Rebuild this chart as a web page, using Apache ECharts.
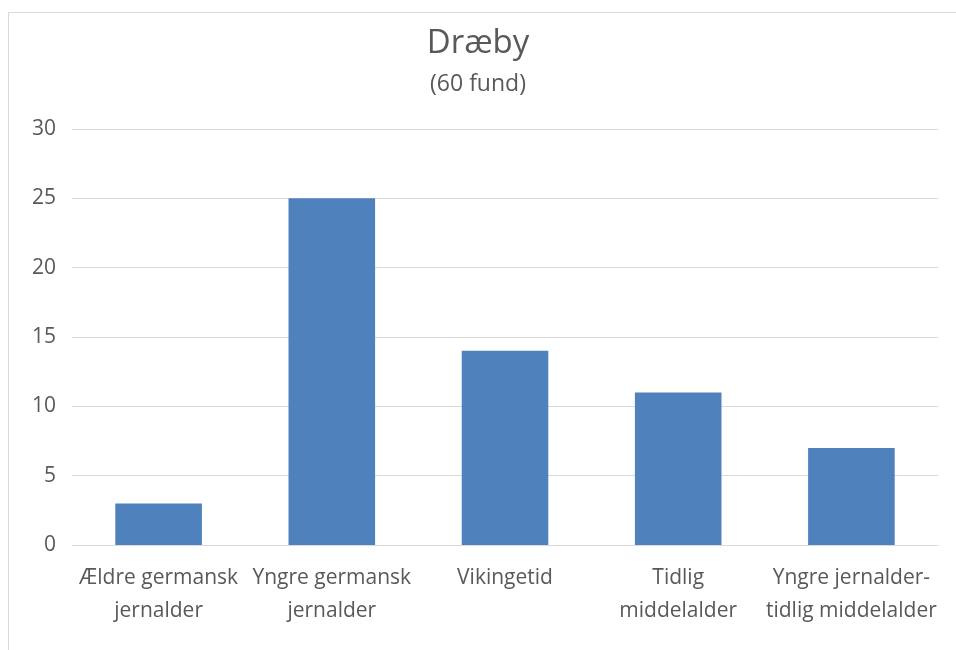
<!DOCTYPE html>
<html>
<head>
<meta charset="utf-8">
<script src="https://cdn.jsdelivr.net/npm/echarts@6/dist/echarts.min.js"></script>
<style>
  html, body { margin: 0; padding: 0; background: #fff; overflow: hidden; }
  #frame { position: absolute; left: 8px; top: 12px; width: 1100px; height: 800px; border: 1px solid #d9d9d9; }
  #main { position: absolute; left: 0; top: 0; width: 956px; height: 650px; }
</style>
</head>
<body>
<div id="frame"></div>
<div id="main"></div>
<script>
  const categories = [
    "Ældre germansk\njernalder",
    "Yngre germansk\njernalder",
    "Vikingetid",
    "Tidlig\nmiddelalder",
    "Yngre jernalder-\ntidlig middelalder"
  ];
  const counts = [3, 25, 14, 11, 7];
  const titleText = "Dræby";
  const subtitleText = "(60 fund)";

  const font = "'Open Sans', sans-serif";
  const textColor = "#595959";

  const chart = echarts.init(document.getElementById("main"));
  chart.setOption({
    animation: false,
    title: {
      text: titleText,
      subtext: subtitleText,
      left: "center",
      top: 22,
      itemGap: 13,
      textStyle: { fontFamily: font, fontSize: 33, fontWeight: "normal", color: textColor },
      subtextStyle: { fontFamily: font, fontSize: 23, color: textColor }
    },
    grid: { left: 72, right: 18, top: 129, bottom: 105 },
    xAxis: {
      type: "category",
      data: categories,
      axisLine: { lineStyle: { color: "#d9d9d9", width: 1 } },
      axisTick: { show: false },
      axisLabel: {
        interval: 0,
        margin: 17,
        fontFamily: font,
        fontSize: 21,
        lineHeight: 33,
        color: textColor
      }
    },
    yAxis: {
      type: "value",
      min: 0,
      max: 30,
      interval: 5,
      axisLine: { show: false },
      axisTick: { show: false },
      splitLine: { lineStyle: { color: "#d9d9d9", width: 1 } },
      axisLabel: { margin: 16, fontFamily: font, fontSize: 21, color: textColor }
    },
    series: [
      {
        type: "bar",
        data: counts,
        barCategoryGap: "50%",
        itemStyle: { color: "#4F81BD" }
      }
    ]
  });
</script>
</body>
</html>
